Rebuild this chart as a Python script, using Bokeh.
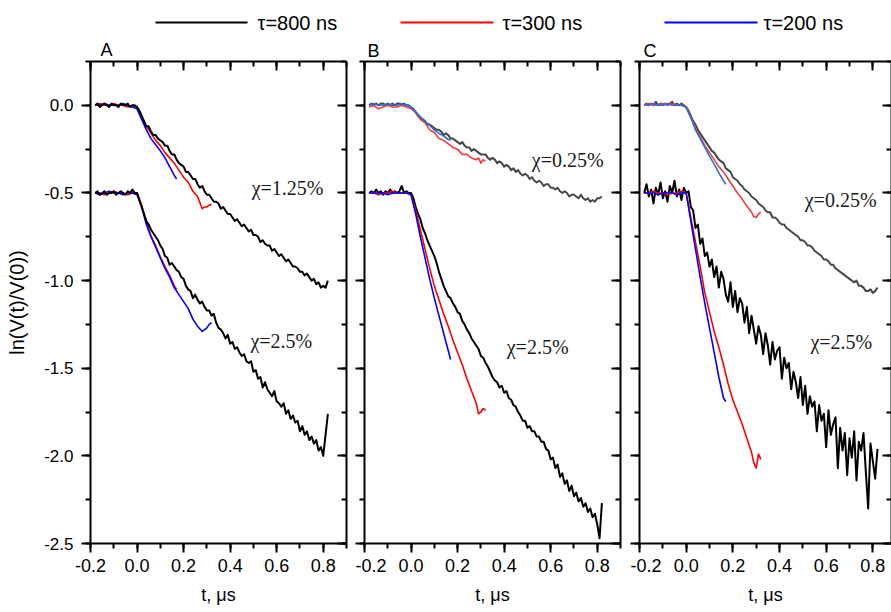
from bokeh.plotting import figure
from bokeh.models import (Range1d, LinearAxis, SingleIntervalTicker, NumeralTickFormatter,
                          CustomJSTickFormatter)
from bokeh.layouts import column, row
from bokeh.embed import file_html
from bokeh.resources import INLINE
from bokeh.core.properties import value

# ---------------- data ----------------
T_K = [-0.18, -0.17, -0.16, -0.15, -0.14, -0.13, -0.12, -0.11, -0.10, -0.09,
       -0.08, -0.07, -0.06, -0.05, -0.04, -0.03, -0.02, -0.01, 0.00,
       0.01, 0.02, 0.03, 0.04, 0.05, 0.06, 0.07, 0.08, 0.09, 0.10,
       0.11, 0.12, 0.13, 0.14, 0.15, 0.16, 0.17, 0.18, 0.19, 0.20,
       0.21, 0.22, 0.23, 0.24, 0.25, 0.26, 0.27, 0.28, 0.29, 0.30,
       0.31, 0.32, 0.33, 0.34, 0.35, 0.36, 0.37, 0.38, 0.39, 0.40,
       0.41, 0.42, 0.43, 0.44, 0.45, 0.46, 0.47, 0.48, 0.49, 0.50,
       0.51, 0.52, 0.53, 0.54, 0.55, 0.56, 0.57, 0.58, 0.59, 0.60,
       0.61, 0.62, 0.63, 0.64, 0.65, 0.66, 0.67, 0.68, 0.69, 0.70,
       0.71, 0.72, 0.73, 0.74, 0.75, 0.76, 0.77, 0.78, 0.79, 0.80,
       0.81, 0.82]
T_R = [-0.18, -0.16, -0.14, -0.12, -0.10, -0.08, -0.06, -0.04, -0.02, 0.00,
       0.02, 0.04, 0.06, 0.08, 0.10, 0.12, 0.14, 0.16, 0.18, 0.20,
       0.22, 0.24, 0.26, 0.28, 0.29, 0.30, 0.31, 0.32]
T_B = [-0.18, -0.16, -0.14, -0.12, -0.10, -0.08, -0.06, -0.04, -0.02, 0.00,
       0.02, 0.04, 0.06, 0.08, 0.10, 0.12, 0.14, 0.16, 0.17]

# Panel A
A_UP_K = [0.00, 0.01, -0.01, 0.00, 0.01, 0.00, -0.01, 0.01, 0.00, 0.00,
          -0.01, 0.01, 0.00, 0.00, 0.01, -0.01, 0.00, 0.00, -0.01,
          -0.03, -0.06, -0.09, -0.12, -0.12, -0.15, -0.17, -0.17, -0.19, -0.20,
          -0.21, -0.23, -0.23, -0.26, -0.28, -0.28, -0.31, -0.33, -0.34, -0.35,
          -0.38, -0.38, -0.40, -0.42, -0.42, -0.45, -0.47, -0.46, -0.49, -0.51,
          -0.51, -0.53, -0.55, -0.55, -0.56, -0.59, -0.58, -0.60, -0.62, -0.62,
          -0.64, -0.66, -0.65, -0.67, -0.69, -0.68, -0.70, -0.72, -0.71, -0.74,
          -0.74, -0.75, -0.78, -0.77, -0.79, -0.80, -0.80, -0.83, -0.82, -0.84,
          -0.86, -0.85, -0.87, -0.89, -0.88, -0.90, -0.92, -0.92, -0.93, -0.95,
          -0.95, -0.97, -0.96, -0.98, -1.00, -0.99, -1.02, -1.01, -1.04, -1.03,
          -1.04, -1.00]
A_UP_R = [0.00, 0.01, 0.00, 0.00, 0.01, 0.00, 0.00, -0.01, 0.00, -0.01,
          -0.07, -0.12, -0.16, -0.20, -0.23, -0.27, -0.30, -0.33, -0.37, -0.41,
          -0.44, -0.49, -0.52, -0.59, -0.58, -0.58, -0.57, -0.565]
A_UP_B = [0.00, 0.00, 0.01, 0.00, 0.00, 0.00, 0.01, 0.00, -0.01, -0.02,
          -0.08, -0.14, -0.19, -0.225, -0.26, -0.30, -0.35, -0.40, -0.42]
A_LO_K = [-0.50, -0.49, -0.51, -0.50, -0.49, -0.51, -0.50, -0.50, -0.49, -0.51,
          -0.50, -0.49, -0.50, -0.51, -0.49, -0.50, -0.48, -0.50, -0.50,
          -0.54, -0.58, -0.62, -0.66, -0.68, -0.71, -0.73, -0.75, -0.77, -0.80,
          -0.82, -0.86, -0.87, -0.91, -0.90, -0.92, -0.94, -0.95, -0.98, -0.99,
          -1.03, -1.05, -1.06, -1.10, -1.08, -1.11, -1.13, -1.12, -1.15, -1.17,
          -1.17, -1.20, -1.19, -1.24, -1.27, -1.28, -1.30, -1.33, -1.31, -1.36,
          -1.35, -1.39, -1.38, -1.41, -1.43, -1.42, -1.46, -1.47, -1.46, -1.52,
          -1.51, -1.56, -1.55, -1.61, -1.58, -1.62, -1.64, -1.66, -1.63, -1.69,
          -1.70, -1.72, -1.70, -1.76, -1.74, -1.79, -1.77, -1.81, -1.80, -1.86,
          -1.83, -1.88, -1.86, -1.91, -1.89, -1.93, -1.91, -1.97, -1.95, -2.00,
          -1.88, -1.76]
A_LO_R = [-0.50, -0.50, -0.51, -0.50, -0.49, -0.50, -0.50, -0.51, -0.50, -0.50,
          -0.57, -0.67, -0.745, -0.80, -0.865, -0.92, -0.97, -1.03, -1.05]
A_LO_B = [-0.50, -0.51, -0.50, -0.49, -0.50, -0.50, -0.51, -0.50, -0.50, -0.51,
          -0.58, -0.68, -0.75, -0.81, -0.87, -0.93, -0.98, -1.04, -1.08, -1.12,
          -1.16, -1.22, -1.26, -1.29, -1.28, -1.27, -1.25, -1.24]

# Panel B
B_UP_G = [0.00, 0.01, 0.00, 0.01, 0.00, 0.01, 0.01, 0.00, 0.01, 0.00,
          0.01, 0.00, 0.01, 0.01, 0.00, 0.01, 0.00, 0.00, -0.01,
          -0.02, -0.04, -0.06, -0.07, -0.08, -0.09, -0.11, -0.11, -0.12, -0.13,
          -0.14, -0.14, -0.15, -0.17, -0.16, -0.17, -0.19, -0.19, -0.20, -0.21,
          -0.22, -0.21, -0.23, -0.24, -0.24, -0.26, -0.25, -0.26, -0.27, -0.28,
          -0.28, -0.28, -0.30, -0.31, -0.30, -0.31, -0.33, -0.32, -0.33, -0.35,
          -0.34, -0.35, -0.37, -0.36, -0.38, -0.37, -0.39, -0.40, -0.39, -0.40,
          -0.42, -0.41, -0.43, -0.44, -0.43, -0.44, -0.46, -0.45, -0.45, -0.47,
          -0.47, -0.48, -0.47, -0.49, -0.50, -0.49, -0.50, -0.52, -0.51, -0.51,
          -0.52, -0.53, -0.51, -0.53, -0.54, -0.53, -0.55, -0.54, -0.55, -0.53,
          -0.53, -0.52]
B_UP_R = [-0.01, 0.00, -0.02, -0.01, 0.00, -0.01, -0.01, 0.00, -0.01, -0.02,
          -0.04, -0.08, -0.10, -0.14, -0.155, -0.19, -0.20, -0.22, -0.24, -0.25,
          -0.28, -0.28, -0.30, -0.31, -0.30, -0.33, -0.31, -0.32]
B_UP_B = [0.00, 0.01, 0.00, 0.00, 0.01, 0.00, 0.00, 0.01, 0.00, -0.01,
          -0.035, -0.065, -0.09, -0.115, -0.14, -0.16, -0.175, -0.195, -0.20]
B_LO_K = [-0.50, -0.49, -0.50, -0.48, -0.50, -0.49, -0.51, -0.49, -0.50, -0.48,
          -0.50, -0.49, -0.50, -0.49, -0.46, -0.50, -0.49, -0.50, -0.50,
          -0.53, -0.58, -0.62, -0.65, -0.70, -0.73, -0.77, -0.80, -0.83, -0.86,
          -0.90, -0.95, -0.99, -1.03, -1.06, -1.09, -1.10, -1.13, -1.15, -1.18,
          -1.19, -1.23, -1.25, -1.28, -1.30, -1.33, -1.35, -1.37, -1.39, -1.43,
          -1.44, -1.47, -1.49, -1.52, -1.55, -1.57, -1.58, -1.61, -1.60, -1.64,
          -1.63, -1.67, -1.68, -1.71, -1.72, -1.75, -1.77, -1.80, -1.80, -1.84,
          -1.83, -1.86, -1.86, -1.89, -1.89, -1.92, -1.92, -1.96, -1.97, -2.02,
          -2.01, -2.07, -2.05, -2.12, -2.10, -2.16, -2.14, -2.20, -2.17, -2.23,
          -2.21, -2.26, -2.24, -2.29, -2.27, -2.32, -2.30, -2.35, -2.33, -2.39,
          -2.47, -2.27]
B_LO_R = [-0.50, -0.50, -0.51, -0.50, -0.50, -0.49, -0.50, -0.50, -0.50, -0.51,
          -0.60, -0.71, -0.82, -0.93, -1.03, -1.11, -1.19, -1.26, -1.34, -1.41,
          -1.48, -1.56, -1.63, -1.70, -1.76, -1.75, -1.73, -1.74]
B_LO_B = [-0.50, -0.50, -0.50, -0.50, -0.51, -0.50, -0.50, -0.50, -0.50, -0.51,
          -0.62, -0.75, -0.87, -0.99, -1.10, -1.20, -1.30, -1.40, -1.45]

# Panel C
C_UP_G = [0.00, 0.01, 0.00, 0.01, 0.00, 0.02, 0.00, 0.01, 0.00, 0.01,
          0.00, 0.01, 0.02, 0.00, 0.01, 0.00, 0.01, 0.00, -0.01,
          -0.03, -0.06, -0.09, -0.11, -0.14, -0.16, -0.18, -0.20, -0.22, -0.24,
          -0.26, -0.27, -0.29, -0.31, -0.32, -0.33, -0.36, -0.37, -0.38, -0.41,
          -0.42, -0.43, -0.45, -0.46, -0.48, -0.49, -0.50, -0.52, -0.53, -0.54,
          -0.56, -0.57, -0.58, -0.60, -0.61, -0.61, -0.64, -0.64, -0.65, -0.67,
          -0.68, -0.68, -0.70, -0.71, -0.72, -0.73, -0.74, -0.75, -0.77, -0.77,
          -0.78, -0.80, -0.80, -0.81, -0.83, -0.84, -0.85, -0.86, -0.88, -0.88,
          -0.89, -0.91, -0.91, -0.93, -0.94, -0.95, -0.96, -0.97, -0.98, -0.99,
          -1.00, -1.01, -1.00, -1.03, -1.03, -1.04, -1.06, -1.06, -1.05, -1.07,
          -1.06, -1.04]
C_UP_R = [0.00, 0.01, 0.00, 0.00, 0.01, 0.00, 0.01, 0.00, 0.00, -0.01,
          -0.07, -0.13, -0.18, -0.23, -0.27, -0.31, -0.35, -0.38, -0.42, -0.46,
          -0.50, -0.535, -0.575, -0.61, -0.635, -0.64, -0.62, -0.61]
C_UP_B = [0.00, 0.00, 0.01, 0.00, 0.00, 0.01, 0.00, 0.00, 0.00, -0.01,
          -0.07, -0.14, -0.19, -0.24, -0.29, -0.335, -0.385, -0.43, -0.45]
C_LO_K = [-0.50, -0.45, -0.52, -0.48, -0.56, -0.47, -0.51, -0.44, -0.53, -0.49,
          -0.55, -0.46, -0.50, -0.43, -0.52, -0.48, -0.54, -0.47, -0.50,
          -0.49, -0.58, -0.60, -0.70, -0.68, -0.79, -0.76, -0.86, -0.84, -0.92,
          -0.88, -0.98, -0.92, -1.04, -0.95, -0.99, -1.08, -1.12, -1.01, -1.15,
          -1.06, -1.18, -1.10, -1.13, -1.24, -1.15, -1.30, -1.20, -1.28, -1.36,
          -1.26, -1.31, -1.42, -1.30, -1.37, -1.48, -1.35, -1.45, -1.40, -1.38,
          -1.56, -1.44, -1.50, -1.47, -1.62, -1.52, -1.58, -1.67, -1.55, -1.71,
          -1.60, -1.76, -1.66, -1.72, -1.69, -1.86, -1.71, -1.80, -1.76, -1.95,
          -1.74, -1.88, -1.82, -1.78, -2.07, -1.84, -1.97, -1.87, -2.11, -1.90,
          -2.01, -1.86, -2.14, -1.92, -1.97, -1.87, -2.09, -2.30, -1.93, -2.03,
          -2.13, -1.96]
C_LO_R = [-0.50, -0.50, -0.49, -0.50, -0.50, -0.51, -0.50, -0.50, -0.49, -0.50,
          -0.64, -0.78, -0.92, -1.07, -1.18, -1.29, -1.38, -1.48, -1.59, -1.68,
          -1.75, -1.82, -1.90, -1.98, -2.04, -2.07, -1.99, -2.02]
C_LO_B = [-0.50, -0.50, -0.50, -0.51, -0.50, -0.50, -0.50, -0.51, -0.50, -0.50,
          -0.66, -0.82, -0.98, -1.13, -1.27, -1.41, -1.55, -1.67, -1.69]

# annotations (text, t, y) per panel
NOTES_A = (["χ=1.25%", "χ=2.5%"], [0.647, 0.62], [-0.474, -1.343])
NOTES_B = (["χ=0.25%", "χ=2.5%"], [0.673, 0.544], [-0.314, -1.377])
NOTES_C = (["χ=0.25%", "χ=2.5%"], [0.662, 0.665], [-0.543, -1.351])

PANEL_NAMES = ["A", "B", "C"]
LEGEND_LABELS = ["τ=800 ns", "τ=300 ns", "τ=200 ns"]
LEGEND_COLORS = ["#000000", "#ff0000", "#0000ff"]

Y_LABEL = "ln(V(t)/V(0))"
X_LABEL = "t, μs"

BLACK = "#000000"
RED = "#ff0000"
BLUE = "#0000ff"
GRAY = "#484848"
RED_L = "#f03c3c"
BLUE_L = "#2b6fe0"

SANS = "Liberation Sans"
SERIF = "Liberation Serif"

PANEL_H = 552


def make_panel(xmax, width, bl, br, show_labels):
    p = figure(width=width, height=PANEL_H, x_range=Range1d(-0.2, xmax),
               y_range=Range1d(-2.5, 0.25), output_backend="svg",
               toolbar_location=None, x_axis_type=None, y_axis_type=None,
               min_border_left=bl, min_border_right=br,
               min_border_top=1, min_border_bottom=69)
    p.outline_line_color = None
    p.background_fill_color = "white"
    p.border_fill_color = "white"

    def style(ax):
        ax.axis_line_color = "black"
        ax.axis_line_width = 2
        ax.major_tick_line_color = "black"
        ax.major_tick_line_width = 2
        ax.minor_tick_line_color = "black"
        ax.minor_tick_line_width = 2
        ax.major_label_text_color = "black"
        ax.major_label_text_font = SANS
        ax.major_label_text_font_size = "17px"
        ax.axis_label_text_font = SANS
        ax.axis_label_text_font_style = "normal"
        ax.axis_label_text_color = "black"

    def hide_labels(ax):
        ax.formatter = CustomJSTickFormatter(code="return ''")
        ax.major_label_text_font_size = "1px"
        ax.major_label_standoff = 0

    def ticker_x():
        return SingleIntervalTicker(interval=0.2, num_minor_ticks=2)

    def ticker_y():
        return SingleIntervalTicker(interval=0.5, num_minor_ticks=2)

    bottom = LinearAxis(ticker=ticker_x(), formatter=NumeralTickFormatter(format="0.0"))
    style(bottom)
    bottom.major_label_text_font_size = "18px"
    bottom.major_tick_in = 0
    bottom.major_tick_out = 9
    bottom.minor_tick_in = 0
    bottom.minor_tick_out = 5
    bottom.major_label_standoff = 6
    bottom.axis_label = X_LABEL
    bottom.axis_label_text_font_size = "18px"
    bottom.axis_label_standoff = 10
    p.add_layout(bottom, "below")

    top = LinearAxis(ticker=ticker_x())
    style(top)
    top.major_tick_in = 9
    top.major_tick_out = 0
    top.minor_tick_in = 5
    top.minor_tick_out = 0
    hide_labels(top)
    p.add_layout(top, "above")

    left = LinearAxis(ticker=ticker_y(), formatter=NumeralTickFormatter(format="0.0"))
    style(left)
    left.major_tick_in = 0
    left.major_tick_out = 9
    left.minor_tick_in = 0
    left.minor_tick_out = 5
    if show_labels:
        left.major_label_standoff = 8
        left.axis_label = Y_LABEL
        left.axis_label_text_font_size = "20px"
        left.axis_label_standoff = 13
    else:
        hide_labels(left)
    p.add_layout(left, "left")

    right = LinearAxis(ticker=ticker_y())
    style(right)
    right.major_tick_in = 9
    right.major_tick_out = 0
    right.minor_tick_in = 5
    right.minor_tick_out = 0
    hide_labels(right)
    p.add_layout(right, "right")
    return p


def draw(p, t, y, color, w):
    p.line(t, y, line_color=color, line_width=w, line_join="round")


def notes(p, n):
    p.text(x=n[1], y=n[2], text=n[0], text_font=value(SERIF), text_font_size="20px",
           text_align="center", text_baseline="middle", text_color="#1a1a1a")


# Panel A
pa = make_panel(0.9, 355, 90, 9, True)
draw(pa, T_R, A_UP_R, RED, 1.6)
draw(pa, T_B, A_UP_B, BLUE, 1.6)
draw(pa, T_K, A_UP_K, BLACK, 2)
draw(pa, T_B, A_LO_R, RED, 1.6)
draw(pa, T_R, A_LO_B, BLUE, 1.6)
draw(pa, T_K, A_LO_K, BLACK, 2)
notes(pa, NOTES_A)

# Panel B
pb = make_panel(0.9, 275, 9, 10, False)
draw(pb, T_K, B_UP_G, GRAY, 2)
draw(pb, T_R, B_UP_R, RED_L, 1.6)
draw(pb, T_B, B_UP_B, BLUE_L, 1.6)
draw(pb, T_K, B_LO_K, BLACK, 2)
draw(pb, T_R, B_LO_R, RED, 1.6)
draw(pb, T_B, B_LO_B, BLUE, 1.6)
notes(pb, NOTES_B)

# Panel C
pc = make_panel(0.88, 261, 9, 0, False)
draw(pc, T_K, C_UP_G, GRAY, 2)
draw(pc, T_R, C_UP_R, RED_L, 1.6)
draw(pc, T_B, C_UP_B, BLUE_L, 1.6)
draw(pc, T_K, C_LO_K, BLACK, 2)
draw(pc, T_R, C_LO_R, RED, 1.6)
draw(pc, T_B, C_LO_B, BLUE, 1.6)
notes(pc, NOTES_C)

# Header strip: legend and panel letters (pixel coordinates of the strip)
HDR_H = 60
hdr = figure(width=891, height=HDR_H, x_range=Range1d(0, 891), y_range=Range1d(0, HDR_H),
             x_axis_type=None, y_axis_type=None, toolbar_location=None,
             output_backend="svg", min_border=0)
hdr.outline_line_color = None
LEG_X0 = [155, 400, 664]
LEG_X1 = [247, 493, 757]
LEG_TX = [257, 502, 763]
LEG_Y = HDR_H - 22
hdr.segment(x0=LEG_X0, x1=LEG_X1, y0=[LEG_Y] * 3, y1=[LEG_Y] * 3,
            line_color=LEGEND_COLORS, line_width=2)
hdr.text(x=LEG_TX, y=[LEG_Y] * 3, text=LEGEND_LABELS, text_font=value(SANS),
         text_font_size="20px", text_align="left", text_baseline="middle", text_color="black")
hdr.text(x=[100, 367, 643], y=[HDR_H - 49, HDR_H - 50, HDR_H - 50], text=PANEL_NAMES,
         text_font=value(SANS), text_font_size="18px", text_align="left",
         text_baseline="alphabetic", text_color="black")

layout = column(hdr, row(pa, pb, pc))
open("out.html", "w").write(file_html(layout, INLINE))
